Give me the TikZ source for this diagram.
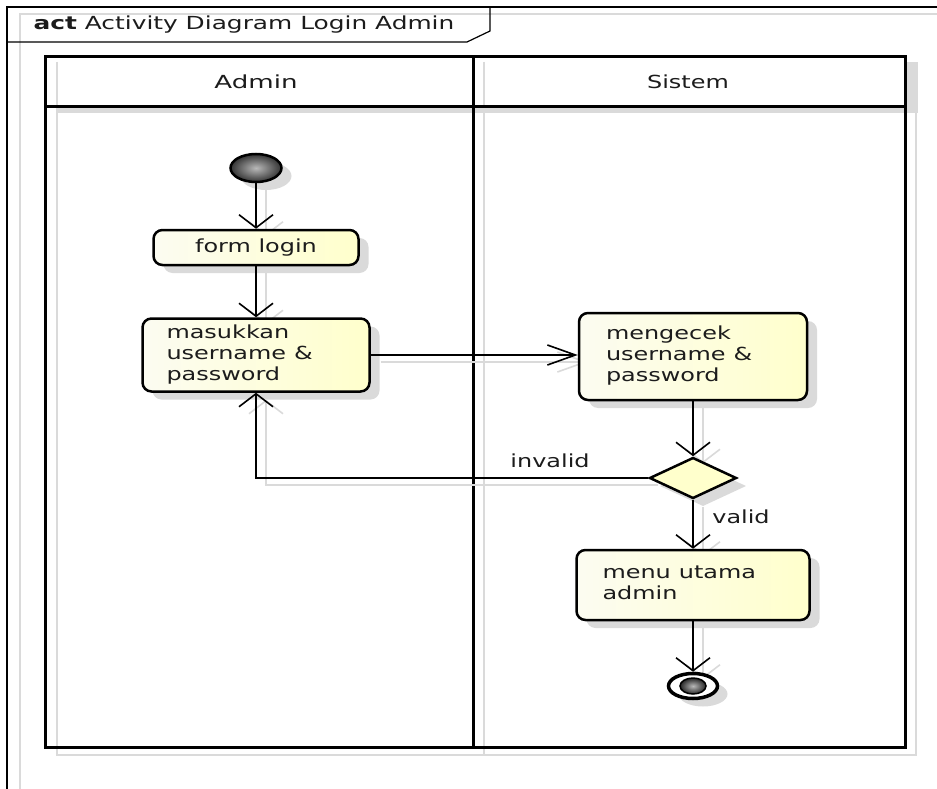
\documentclass[tikz,border=0pt]{standalone}
\usepackage{fontspec}
\setmainfont{DejaVu Sans}
\usetikzlibrary{arrows.meta,shapes.geometric,shadows}
\pgfdeclarelayer{back}
\pgfsetlayers{back,main}

\definecolor{inkc}{HTML}{1C1C1C}
\definecolor{ghostgrey}{HTML}{DADADA}
\definecolor{paleL}{HTML}{FCFCF1}
\definecolor{paleR}{HTML}{FFFFCC}

% labels are set wide, as the modelling tool exports them
\newcommand{\wide}[1]{\scalebox{1.33}[1]{#1}}
\newcommand{\stack}[1]{\wide{\begin{tabular}{@{}l@{}}#1\end{tabular}}}
\newcommand{\txtfont}{\fontsize{18}{21}\selectfont}

\begin{document}
\begin{tikzpicture}[x=1pt,y=-1pt,
  every node/.style={text=inkc, font=\txtfont},
  boxshadow/.style={drop shadow={shadow xshift=10pt, shadow yshift=-8pt, fill=ghostgrey, opacity=1}},
  actbox/.style={draw=black, line width=2.5pt, rounded corners=9pt,
    left color=paleL, right color=paleR, inner sep=0pt, boxshadow},
  textbox/.style={actbox, align=left},
  decision/.style={diamond, draw=black, line width=2.5pt, fill=paleR,
    inner sep=0pt, boxshadow},
  initnode/.style={ellipse, draw=black, line width=2.5pt, inner sep=0pt,
    minimum width=51pt, minimum height=28pt,
    inner color=gray!55, outer color=black!80, boxshadow},
  endnode/.style={ellipse, draw=black, line width=3.5pt, fill=white, inner sep=0pt,
    minimum width=49pt, minimum height=25pt, boxshadow},
  vtip/.tip={Straight Barb[length=13pt,width=34pt,line width=1.6pt]},
  htip/.tip={Straight Barb[length=28pt,width=20pt,line width=1.6pt]},
  flowv/.style={draw=black, line width=1.8pt, -vtip},
  flowh/.style={draw=black, line width=1.8pt, -htip},
  ghost/.style={draw=ghostgrey, transform canvas={shift={(10pt,-7pt)}}},
  lane/.style={draw=black, line width=3pt},
  laneghost/.style={draw=ghostgrey, line width=2.5pt}
]
\useasboundingbox (0,0) rectangle (937,789);

% ---- frame and swimlanes ----
\begin{pgfonlayer}{back}
  \draw[ghostgrey, line width=1.5pt] (20,789) -- (20,14) -- (937,14);
  \draw[black, line width=1.2pt] (7,789) -- (7,7) -- (937,7);
  \draw[black, line width=1.2pt] (7,42) -- (467,42) -- (490,31) -- (490,7);

  \fill[ghostgrey] (56,62) rectangle (918,113);
  \fill[white] (45,57) rectangle (905,107);
  \draw[laneghost] (57,62) -- (57,755) -- (916,755) -- (916,62);
  \draw[laneghost] (484,62) -- (484,755);
  \draw[lane] (45,57) rectangle (905,747);
  \draw[lane] (45,107) -- (905,107);
  \draw[lane] (473,57) -- (473,747);
\end{pgfonlayer}

\node (title) at (244,25) {\scalebox{1.38}[1]{\textbf{act} Activity Diagram Login Admin}};
\node (laneA) at (256,82) {\scalebox{1.45}[1]{Admin}};
\node (laneS) at (688,82) {\wide{Sistem}};

% ---- activity nodes ----
\node[initnode] (start) at (256,168) {};
\node[actbox, minimum width=205pt, minimum height=35pt] (form) at (256,247.5) {\wide{form login}};
\node[textbox, minimum width=227pt, minimum height=73pt, text width=179pt] (masuk) at (256,355)
  {\stack{masukkan\\username \&\\password}};
\node[textbox, minimum width=228pt, minimum height=87pt, text width=174pt] (cek) at (693,356.5)
  {\stack{mengecek\\username \&\\password}};
\node[decision, minimum width=87pt, minimum height=41pt] (dec) at (693,478) {};
\node[textbox, minimum width=233pt, minimum height=70pt, text width=181pt] (menu) at (693,585)
  {\stack{menu utama\\admin}};
\node[endnode] (end) at (693,686) {};
\draw[black, line width=1.5pt, inner color=gray!55, outer color=black!85]
  (end.center) ellipse [x radius=13pt, y radius=8pt];

\node (lblinv) at (550,461) {\wide{invalid}};
\node (lblval) at (741,517) {\wide{valid}};

% ---- connector shadows ----
\begin{pgfonlayer}{back}
  \draw[flowv, ghost] (start.south) -- (form.north);
  \draw[flowv, ghost] (form.south) -- (masuk.north);
  \draw[flowh, ghost] (masuk.east) -- (masuk.east -| cek.west);
  \draw[flowv, ghost] (cek.south) -- (dec.north);
  \draw[flowv, ghost] (dec.west) -| (masuk.south);
  \draw[flowv, ghost] (dec.south) -- (menu.north);
  \draw[flowv, ghost] (menu.south) -- (end.north);
\end{pgfonlayer}

% ---- connectors ----
\draw[flowv] (start.south) -- (form.north);
\draw[flowv] (form.south) -- (masuk.north);
\draw[flowh] (masuk.east) -- (masuk.east -| cek.west);
\draw[flowv] (cek.south) -- (dec.north);
\draw[flowv] (dec.west) -| (masuk.south);
\draw[flowv] (dec.south) -- (menu.north);
\draw[flowv] (menu.south) -- (end.north);
\end{tikzpicture}
\end{document}
